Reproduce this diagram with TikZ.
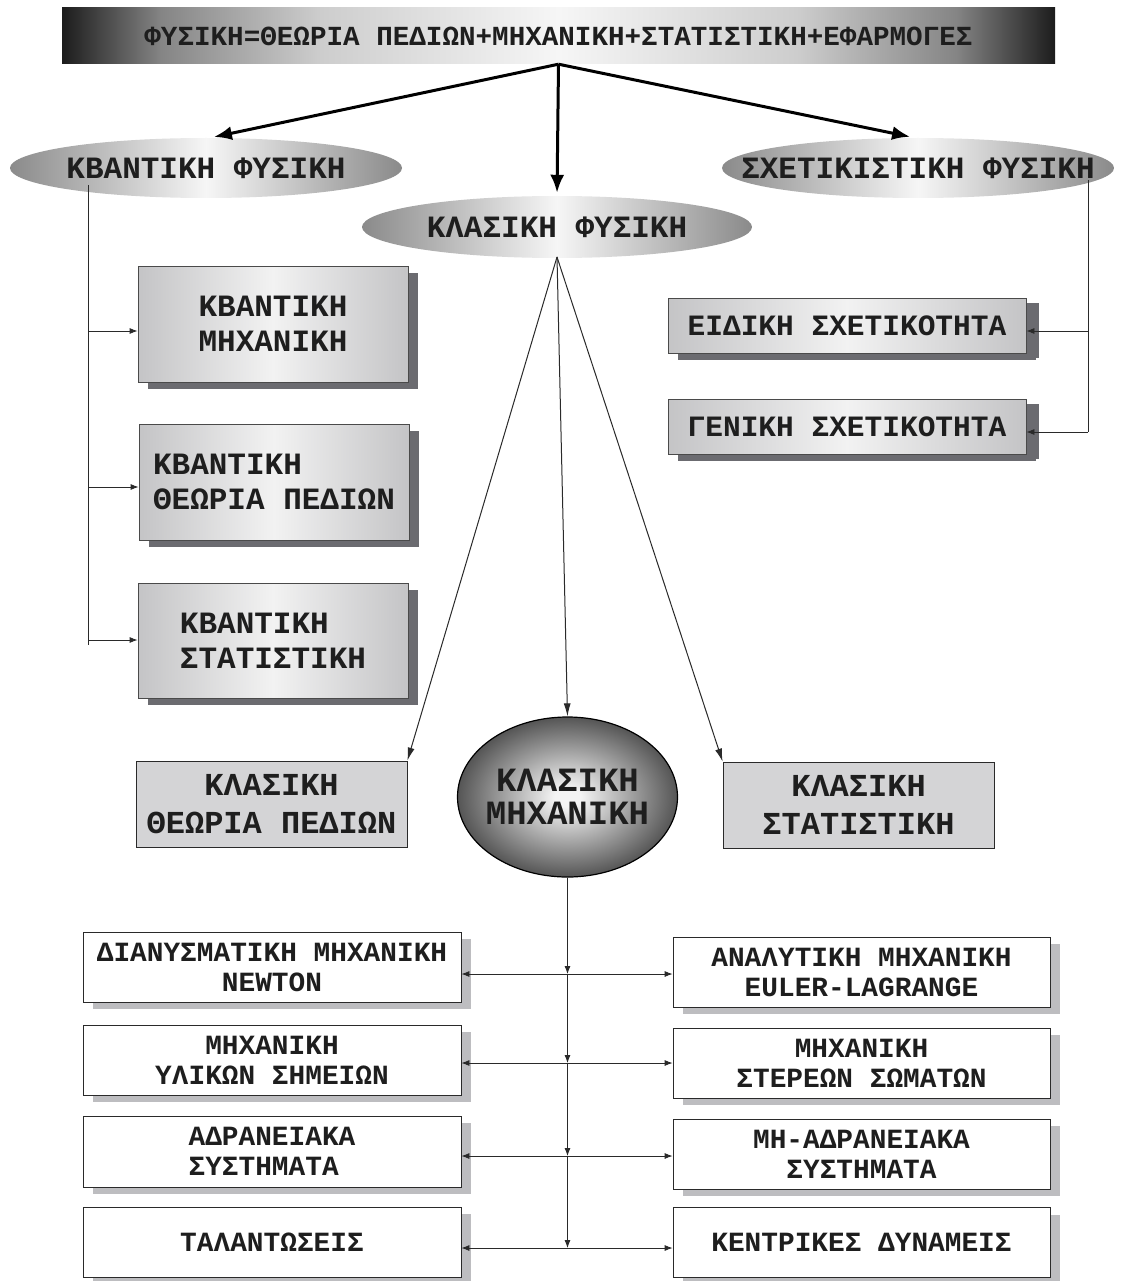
\documentclass[tikz,border=0pt]{standalone}
\usepackage{fontspec}
\newfontfamily\cfont{Liberation Mono}
\usetikzlibrary{arrows.meta,shapes.geometric,shadows,calc}
\definecolor{txtc}{HTML}{1E1E1E}
\definecolor{bandark}{HTML}{1C1C1C}
\definecolor{banmid1}{HTML}{3C3C3C}
\definecolor{banmid2}{HTML}{858585}
\definecolor{banmid3}{HTML}{CDCDCD}
\definecolor{banlight}{HTML}{F6F6F6}
\definecolor{ellout}{HTML}{8A8A8A}
\definecolor{ellin}{HTML}{F6F6F6}
\definecolor{cmin}{HTML}{F4F4F4}
\definecolor{cmout}{HTML}{555555}
\definecolor{qedge}{HTML}{C4C4C6}
\definecolor{qmid}{HTML}{F2F2F2}
\definecolor{shdark}{HTML}{6B6B70}
\definecolor{shlight}{HTML}{BDBDC0}
\definecolor{bordc}{HTML}{4A4A4A}
\definecolor{flatgray}{HTML}{D4D4D6}
\definecolor{linec}{HTML}{2A2A2A}
\pgfdeclareradialshading{cmshade}{\pgfpoint{0bp}{0bp}}{color(0bp)=(cmin); color(3bp)=(cmin); color(25bp)=(cmout); color(50bp)=(cmout)}
\pgfdeclarehorizontalshading{banshade}{100bp}{color(0bp)=(bandark); color(25bp)=(bandark); color(26.5bp)=(banmid1); color(30bp)=(banmid2); color(38bp)=(banmid3); color(50bp)=(banlight); color(62bp)=(banmid3); color(70bp)=(banmid2); color(73.5bp)=(banmid1); color(75bp)=(bandark); color(100bp)=(bandark)}
\begin{document}
\begin{tikzpicture}[x=1pt,y=-1pt,
  banner/.style={rectangle, inner sep=0pt, minimum width=993pt, minimum height=56pt,
    shading=banshade,
    font=\cfont\bfseries\fontsize{27.6}{30}\selectfont, text=txtc},
  ellnode/.style={ellipse, inner xsep=-40pt, inner ysep=0pt, minimum width=392pt, minimum height=60pt,
    left color=ellout, right color=ellout, middle color=ellin,
    font=\cfont\bfseries\fontsize{31}{35}\selectfont, text=txtc},
  qbox/.style={rectangle, inner sep=0pt, minimum width=270pt, minimum height=116pt, align=center,
    draw=bordc, line width=0.8pt, left color=qedge, right color=qedge, middle color=qmid,
    general shadow={fill=shdark, shadow xshift=10pt, shadow yshift=-7pt},
    font=\cfont\bfseries\fontsize{31}{35}\selectfont, text=txtc},
  rbox/.style={qbox, minimum width=358pt, minimum height=55pt,
    general shadow={fill=shdark, shadow xshift=13pt, shadow yshift=-5pt},
    font=\cfont\bfseries\fontsize{29.5}{33}\selectfont},
  cbox/.style={rectangle, inner sep=0pt, minimum width=271pt, minimum height=86pt, align=center,
    draw=linec, line width=0.8pt, fill=flatgray,
    font=\cfont\bfseries\fontsize{32}{38}\selectfont, text=txtc},
  cmnode/.style={ellipse, inner xsep=-20pt, inner ysep=0pt, minimum width=220pt, minimum height=160pt,
    align=center, draw=black, line width=1.2pt, shading=cmshade,
    font=\cfont\bfseries\fontsize{34}{33}\selectfont, text=txtc},
  wbox/.style={rectangle, inner sep=0pt, minimum width=378pt, minimum height=70pt, align=center,
    draw=linec, line width=0.8pt, fill=white,
    general shadow={fill=shlight, shadow xshift=10pt, shadow yshift=-7pt},
    font=\cfont\bfseries\fontsize{27.8}{30}\selectfont, text=txtc},
  bigarr/.style={draw=black, line width=3pt, -{Latex[length=18pt,width=14pt]}},
  midarr/.style={draw=linec, line width=1pt, -{Latex[length=13pt,width=7pt]}},
  sarr/.style={draw=linec, line width=0.8pt, -{Latex[length=8pt,width=6pt]}},
  darr/.style={draw=linec, line width=0.8pt, {Latex[length=8pt,width=6pt]}-{Latex[length=8pt,width=6pt]}},
  plain/.style={draw=linec, line width=0.8pt}
]
\useasboundingbox (0,0) rectangle (1122,1281);
\fill[white] (0,0) rectangle (1122,1281);

% banner
\node[banner] (top) at (558.5,36) {ΦΥΣΙΚΗ=ΘΕΩΡΙΑ ΠΕΔΙΩΝ+ΜΗΧΑΝΙΚΗ+ΣΤΑΤΙΣΤΙΚΗ+ΕΦΑΡΜΟΓΕΣ};

% ellipses
\node[ellnode] (qp) at (206,168) {ΚΒΑΝΤΙΚΗ ΦΥΣΙΚΗ};
\node[ellnode, minimum width=390pt, minimum height=62pt] (cp) at (557,227) {ΚΛΑΣΙΚΗ ΦΥΣΙΚΗ};
\node[ellnode] (rp) at (918,168) {ΣΧΕΤΙΚΙΣΤΙΚΗ ΦΥΣΙΚΗ};

% quantum boxes
\node[qbox] (qm) at (273,324) {ΚΒΑΝΤΙΚΗ\\ΜΗΧΑΝΙΚΗ};
\node[qbox, align=left] (qt) at (274,482) {ΚΒΑΝΤΙΚΗ\\ΘΕΩΡΙΑ ΠΕΔΙΩΝ};
\node[qbox, align=left, minimum height=115pt] (qs) at (273,640.5) {ΚΒΑΝΤΙΚΗ\\ΣΤΑΤΙΣΤΙΚΗ};

% relativity boxes
\node[rbox] (sr) at (847,325.5) {ΕΙΔΙΚΗ ΣΧΕΤΙΚΟΤΗΤΑ};
\node[rbox] (gr) at (847,426.5) {ΓΕΝΙΚΗ ΣΧΕΤΙΚΟΤΗΤΑ};

% classical
\node[cbox] (ctp) at (271.5,804) {ΚΛΑΣΙΚΗ\\ΘΕΩΡΙΑ ΠΕΔΙΩΝ};
\node[cmnode] (cm) at (567.5,797) {ΚΛΑΣΙΚΗ\\ΜΗΧΑΝΙΚΗ};
\node[cbox] (cs) at (858.5,805) {ΚΛΑΣΙΚΗ\\ΣΤΑΤΙΣΤΙΚΗ};

% bottom boxes
\node[wbox] (lb1) at (272,967) {ΔΙΑΝΥΣΜΑΤΙΚΗ ΜΗΧΑΝΙΚΗ\\NEWTON};
\node[wbox] (lb2) at (272,1060) {ΜΗΧΑΝΙΚΗ\\ΥΛΙΚΩΝ ΣΗΜΕΙΩΝ};
\node[wbox, align=left, minimum height=71pt] (lb3) at (272,1151.5) {ΑΔΡΑΝΕΙΑΚΑ\\ΣΥΣΤΗΜΑΤΑ};
\node[wbox] (lb4) at (272,1242) {ΤΑΛΑΝΤΩΣΕΙΣ};
\node[wbox, minimum width=377pt] (rb1) at (861.5,972) {ΑΝΑΛΥΤΙΚΗ ΜΗΧΑΝΙΚΗ\\EULER-LAGRANGE};
\node[wbox, minimum width=377pt] (rb2) at (861.5,1063) {ΜΗΧΑΝΙΚΗ\\ΣΤΕΡΕΩΝ ΣΩΜΑΤΩΝ};
\node[wbox, minimum width=377pt] (rb3) at (861.5,1154) {ΜΗ-ΑΔΡΑΝΕΙΑΚΑ\\ΣΥΣΤΗΜΑΤΑ};
\node[wbox, minimum width=377pt] (rb4) at (861.5,1242.5) {ΚΕΝΤΡΙΚΕΣ ΔΥΝΑΜΕΙΣ};

% top arrows
\draw[bigarr, shorten >=4pt] (top.south) -- ($(qp.north)+(4,0)$);
\draw[bigarr, shorten >=3pt] (top.south) -- (cp.north);
\draw[bigarr, shorten >=5pt] (top.south) -- ($(rp.north)+(-3,0)$);

% quantum connectors
\coordinate (qa) at (88,185);
\coordinate (qb) at (88,645);
\coordinate (q1) at (88,331);
\coordinate (q2) at (88,487);
\coordinate (q3) at (88,640);
\draw[plain] (qa) -- (qb);
\draw[sarr] (q1) -- (q1 -| qm.west);
\draw[sarr] (q2) -- (q2 -| qt.west);
\draw[sarr] (q3) -- (q3 -| qs.west);

% relativity connectors
\coordinate (ra) at (1088,180);
\coordinate (r1) at (1088,331);
\coordinate (r2) at (1088,432);
\draw[plain] (ra) -- (r2);
\draw[sarr] (r1) -- (r1 -| sr.east);
\draw[sarr] (r2) -- (r2 -| gr.east);

% classical connectors
\coordinate (cpo) at (557,257);
\draw[midarr] (cpo) -- (ctp.north east);
\draw[midarr] (cpo) -- (cm.north);
\draw[midarr] (cpo) -- (cs.north west);

% mechanics connectors
\coordinate (j1) at (567.5,974);
\coordinate (j2) at (567.5,1063);
\coordinate (j3) at (567.5,1156);
\coordinate (j4) at (567.5,1248);
\draw[sarr] (cm.south) -- (j1);
\draw[sarr] (j1) -- (j2);
\draw[sarr] (j2) -- (j3);
\draw[sarr] (j3) -- (j4);
\draw[darr] (j1 -| lb1.east) -- (j1 -| rb1.west);
\draw[darr] (j2 -| lb2.east) -- (j2 -| rb2.west);
\draw[darr] (j3 -| lb3.east) -- (j3 -| rb3.west);
\draw[darr] (j4 -| lb4.east) -- (j4 -| rb4.west);
\end{tikzpicture}
\end{document}
